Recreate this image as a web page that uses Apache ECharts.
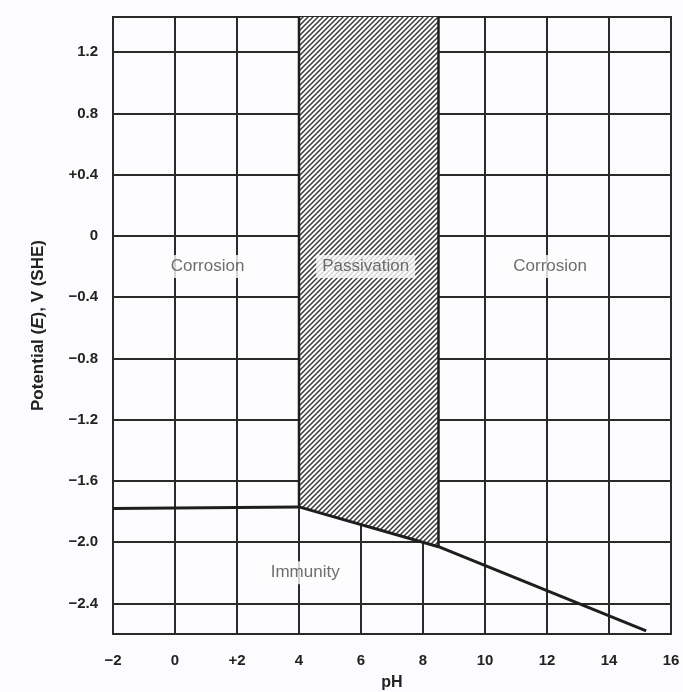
<!DOCTYPE html>
<html>
<head>
<meta charset="utf-8">
<script src="https://cdn.jsdelivr.net/npm/echarts@6/dist/echarts.min.js"></script>
<style>html,body{margin:0;padding:0;background:#fcfcfe;}#c{width:683px;height:692px;}</style>
</head>
<body>
<div id="c"></div>
<script>
// ---- data ----
const xMin = -2, xMax = 16;
const yMin = -2.6, yMax = 1.43;
const xTicks = [-2, 0, 2, 4, 6, 8, 10, 12, 14, 16];
const xTickLabels = ['\u22122', '0', '+2', '4', '6', '8', '10', '12', '14', '16'];
const yTicks = [1.2, 0.8, 0.4, 0, -0.4, -0.8, -1.2, -1.6, -2.0, -2.4];
const yTickLabels = ['1.2', '0.8', '+0.4', '0', '\u22120.4', '\u22120.8', '\u22121.2', '\u22121.6', '\u22122.0', '\u22122.4'];
// lower boundary (immunity line)
const boundaryPH = [-2, 4, 8.5, 15.2];
const boundaryE = [-1.78, -1.77, -2.03, -2.58];
// passivation band
const passivationPH = [4, 8.5];
const passivationBottomE = [-1.77, -2.03];
// region labels
const regionNames = ['Corrosion', 'Passivation', 'Corrosion', 'Immunity'];
const regionPH = [1.05, 6.15, 12.1, 4.2];
const regionE = [-0.2, -0.2, -0.2, -2.2];

// hatch pattern
const pc = document.createElement('canvas');
const T = 5;
pc.width = T; pc.height = T;
const g = pc.getContext('2d');
g.fillStyle = '#ffffff'; g.fillRect(0, 0, T, T);
g.strokeStyle = '#3a3a3a'; g.lineWidth = 1.5;
g.beginPath();
g.moveTo(-1, T + 1); g.lineTo(T + 1, -1);
g.moveTo(-1, 1); g.lineTo(1, -1);
g.moveTo(T - 1, T + 1); g.lineTo(T + 1, T - 1);
g.stroke();

function lbl(arrV, arrL) {
  return function (v) {
    for (let i = 0; i < arrV.length; i++) if (Math.abs(arrV[i] - v) < 1e-6) return arrL[i];
    return '';
  };
}

const FONT = 'Liberation Sans, Arial, sans-serif';
const chart = echarts.init(document.getElementById('c'));
const option = {
  backgroundColor: '#fcfcfe',
  animation: false,
  grid: { left: 113, right: 12, top: 17, bottom: 58, containLabel: false, outerBoundsMode: 'none', show: true, borderColor: '#2a2a2a', borderWidth: 2, backgroundColor: 'transparent' },
  xAxis: {
    type: 'value', min: xMin, max: xMax, interval: 2,
    name: 'pH', nameLocation: 'middle', nameGap: 41,
    nameTextStyle: { fontFamily: FONT, fontSize: 16, fontWeight: 'bold', color: '#222' },
    axisLine: { show: true, lineStyle: { color: '#2a2a2a', width: 2 } },
    axisTick: { show: false },
    axisLabel: { formatter: lbl(xTicks, xTickLabels), margin: 19, fontFamily: FONT, fontSize: 15, fontWeight: 'bold', color: '#222', showMaxLabel: true },
    splitLine: { show: true, lineStyle: { color: '#2a2a2a', width: 2 } }
  },
  yAxis: {
    type: 'value', min: yMin, max: yMax,
    name: 'Potential ({i|E}), V (SHE)', nameLocation: 'middle', nameGap: 66,
    nameTextStyle: { fontFamily: FONT, fontSize: 17, fontWeight: 'bold', color: '#222',
      rich: { i: { fontStyle: 'italic', fontFamily: FONT, fontSize: 17, fontWeight: 'bold', color: '#222' } } },
    axisLine: { show: true, lineStyle: { color: '#2a2a2a', width: 2 } },
    axisTick: { show: false, customValues: yTicks },
    axisLabel: { customValues: yTicks, formatter: lbl(yTicks, yTickLabels), margin: 15, fontFamily: FONT, fontSize: 15, fontWeight: 'bold', color: '#222' },
    splitLine: { show: false }
  },
  series: [
    {
      type: 'line', data: [], z: 1, silent: true,
      markLine: {
        z: 1, silent: true, symbol: ['none', 'none'], label: { show: false },
        lineStyle: { color: '#2a2a2a', width: 2, type: 'solid' },
        emphasis: { disabled: true },
        data: yTicks.map(v => ({ yAxis: v }))
      }
    },
    {
      type: 'custom', z: 6, silent: true,
      data: [0],
      renderItem: function (params, api) {
        const pts = [
          api.coord([passivationPH[0], yMax]),
          api.coord([passivationPH[1], yMax]),
          api.coord([passivationPH[1], passivationBottomE[1]]),
          api.coord([passivationPH[0], passivationBottomE[0]])
        ];
        return {
          type: 'group',
          children: [
            { type: 'polygon', shape: { points: pts }, style: { fill: { image: pc, repeat: 'repeat' }, stroke: null } },
            { type: 'line', shape: { x1: pts[0][0], y1: pts[0][1], x2: pts[3][0], y2: pts[3][1] }, style: { stroke: '#1e1e1e', lineWidth: 2.5 } },
            { type: 'line', shape: { x1: pts[1][0], y1: pts[1][1], x2: pts[2][0], y2: pts[2][1] }, style: { stroke: '#1e1e1e', lineWidth: 2.5 } }
          ]
        };
      }
    },
    {
      type: 'line', z: 7, silent: true, symbol: 'none',
      data: boundaryPH.map((x, i) => [x, boundaryE[i]]),
      lineStyle: { color: '#1e1e1e', width: 3 }
    },
    {
      type: 'scatter', z: 8, silent: true, symbolSize: 1,
      itemStyle: { color: 'rgba(0,0,0,0)' },
      data: regionNames.map((n, i) => ({ name: n, value: [regionPH[i], regionE[i]] })),
      label: {
        show: true, position: 'inside', formatter: '{b}',
        fontFamily: FONT, fontSize: 17, color: '#4a4a4a',
        backgroundColor: '#fcfcfe', padding: [3, 6]
      }
    }
  ]
};
chart.setOption(option);
</script>
</body>
</html>
